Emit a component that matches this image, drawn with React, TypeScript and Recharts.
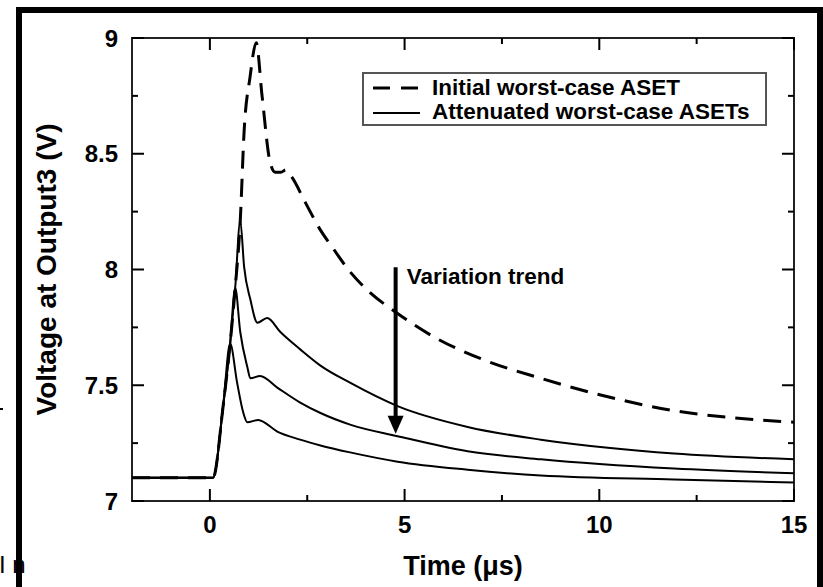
import { LineChart, Line, XAxis, YAxis, ReferenceArea, ReferenceLine, Legend } from "recharts";

const W = 823;
const H = 587;
const PLOT = { left: 132, right: 794, top: 38, bottom: 501 };
const FONT = "'Liberation Sans', Arial, Helvetica, sans-serif";

// time axis (µs) and voltage axis (V)
const xTicks = [0, 2.5, 5, 7.5, 10, 12.5, 15];
const yTicks = [7, 7.25, 7.5, 7.75, 8, 8.25, 8.5, 8.75, 9];

// initial worst-case ASET (dashed)
const initialTime = [-2, 0.08, 0.34, 0.52, 0.65, 0.78, 0.88, 1.03, 1.19, 1.34, 1.55, 1.68, 1.82, 1.95, 2.1, 2.45, 2.84, 3.17, 3.6, 4.05, 4.82, 5.74, 7.03, 8.5, 10.22, 11.92, 13.4, 15];
const initialVolt = [7.1, 7.1, 7.41, 7.68, 7.92, 8.21, 8.6, 8.83, 8.98, 8.75, 8.46, 8.42, 8.42, 8.43, 8.4, 8.29, 8.17, 8.09, 7.99, 7.91, 7.81, 7.71, 7.61, 7.53, 7.45, 7.39, 7.36, 7.34];

// attenuated worst-case ASETs (solid)
const attenATime = [-2, 0.08, 0.34, 0.52, 0.65, 0.78, 0.88, 1.04, 1.22, 1.47, 1.81, 2.32, 2.84, 3.61, 4.82, 6.62, 8.5, 10.22, 11.92, 15];
const attenAVolt = [7.1, 7.1, 7.41, 7.68, 7.92, 8.21, 8.01, 7.87, 7.77, 7.79, 7.73, 7.655, 7.585, 7.51, 7.41, 7.32, 7.265, 7.23, 7.205, 7.18];

const attenBTime = [-2, 0.08, 0.34, 0.52, 0.65, 0.78, 0.96, 1.04, 1.29, 1.73, 2.32, 2.84, 3.6, 4.82, 6.62, 8.5, 11.92, 15];
const attenBVolt = [7.1, 7.1, 7.41, 7.68, 7.92, 7.73, 7.58, 7.53, 7.54, 7.49, 7.425, 7.38, 7.33, 7.28, 7.215, 7.18, 7.14, 7.12];

const attenCTime = [-2, 0.08, 0.34, 0.52, 0.7, 0.86, 0.96, 1.24, 1.73, 2.32, 2.84, 3.6, 4.82, 6.62, 8.5, 11.92, 15];
const attenCVolt = [7.1, 7.1, 7.41, 7.68, 7.51, 7.38, 7.34, 7.35, 7.3, 7.265, 7.24, 7.21, 7.17, 7.135, 7.11, 7.093, 7.08];

// "Variation trend" arrow: time, start/end voltage
const trendTime = 4.77;
const trendVolt = [8.01, 7.29];

const zip = (t: number[], v: number[]) => t.map((x, i) => ({ t: x, v: v[i] }));

const solidSeries = [zip(attenATime, attenAVolt), zip(attenBTime, attenBVolt), zip(attenCTime, attenCVolt)];
const dashedSeries = zip(initialTime, initialVolt);

const XTick = ({ x, payload }: any) => {
  const v = payload.value;
  const major = v % 5 === 0;
  const len = major ? 12 : 6;
  return (
    <g>
      <line x1={x} x2={x} y1={PLOT.bottom} y2={PLOT.bottom - len} stroke="#000" strokeWidth={2} />
      <line x1={x} x2={x} y1={PLOT.top} y2={PLOT.top + len} stroke="#000" strokeWidth={2} />
      {major && (
        <text x={x} y={PLOT.bottom + 32} textAnchor="middle" fontFamily={FONT} fontWeight="bold" fontSize={24} fill="#000">
          {v}
        </text>
      )}
    </g>
  );
};

const YTick = ({ y, payload }: any) => {
  const v = payload.value;
  const major = Math.abs(v * 2 - Math.round(v * 2)) < 1e-6;
  const len = major ? 12 : 6;
  return (
    <g>
      <line x1={PLOT.left} x2={PLOT.left + len} y1={y} y2={y} stroke="#000" strokeWidth={2} />
      <line x1={PLOT.right} x2={PLOT.right - len} y1={y} y2={y} stroke="#000" strokeWidth={2} />
      {major && (
        <text x={PLOT.left - 14} y={y + 8.5} textAnchor="end" fontFamily={FONT} fontWeight="bold" fontSize={24} fill="#000">
          {String(v)}
        </text>
      )}
    </g>
  );
};

const TrendArrow = (props: any) => {
  const { x1, x2, y1, y2 } = props;
  const x = (x1 + x2) / 2;
  const top = Math.min(y1, y2);
  const bot = Math.max(y1, y2);
  return (
    <g>
      <line x1={x} x2={x} y1={top} y2={bot - 14} stroke="#000" strokeWidth={4} />
      <polygon points={`${x - 8},${bot - 18} ${x + 8},${bot - 18} ${x},${bot}`} fill="#000" />
      <text x={x + 11} y={top + 17} fontFamily={FONT} fontWeight="bold" fontSize={22.5} fill="#000">
        Variation trend
      </text>
    </g>
  );
};

const LegendBox = () => (
  <div
    style={{
      position: "relative",
      width: 405,
      height: 54,
      border: "2px solid #555",
      boxSizing: "border-box",
      background: "#fff",
      fontFamily: FONT,
      fontWeight: "bold",
      fontSize: 22.5,
      color: "#000",
    }}
  >
    <svg width={60} height={54} style={{ position: "absolute", left: 0, top: 0 }}>
      <line x1={9} x2={56} y1={14} y2={14} stroke="#000" strokeWidth={3} strokeDasharray="17 11" />
      <line x1={9} x2={56} y1={39} y2={39} stroke="#000" strokeWidth={2} />
    </svg>
    <div style={{ position: "absolute", left: 68, top: 1, lineHeight: "26px", whiteSpace: "nowrap" }}>
      Initial worst-case ASET
    </div>
    <div style={{ position: "absolute", left: 68, top: 25, lineHeight: "26px", whiteSpace: "nowrap" }}>
      Attenuated worst-case ASETs
    </div>
  </div>
);

export default function App() {
  return (
    <div style={{ position: "fixed", left: 0, top: 0, width: W, height: H, overflow: "hidden", background: "#fff" }}>
      <div style={{ position: "absolute", left: -1, top: 551, fontFamily: FONT, fontSize: 24, color: "#000" }}>I n</div>
      <div style={{ position: "absolute", left: 0, top: 408, width: 3, height: 2, background: "#000" }} />
      <div style={{ position: "absolute", left: 0, top: 0 }}>
        <LineChart width={W} height={H} margin={{ top: PLOT.top, right: W - PLOT.right, bottom: 20, left: 0 }}>
          <XAxis
            dataKey="t"
            type="number"
            domain={[-2, 15]}
            ticks={xTicks}
            interval={0}
            allowDataOverflow
            axisLine={false}
            tickLine={false}
            tickSize={0}
            tickMargin={0}
            height={H - PLOT.bottom - 20}
            tick={<XTick />}
            label={{
              content: () => (
                <text x={(PLOT.left + PLOT.right) / 2} y={575} textAnchor="middle" fontFamily={FONT} fontWeight="bold" fontSize={27} fill="#000">
                  Time (μs)
                </text>
              ),
            }}
          />
          <YAxis
            dataKey="v"
            type="number"
            domain={[7, 9]}
            ticks={yTicks}
            interval={0}
            allowDataOverflow
            axisLine={false}
            tickLine={false}
            tickSize={0}
            tickMargin={0}
            width={PLOT.left}
            tick={<YTick />}
            label={{
              content: () => (
                <text
                  x={0}
                  y={0}
                  transform={`translate(56, ${(PLOT.top + PLOT.bottom) / 2}) rotate(-90)`}
                  textAnchor="middle"
                  fontFamily={FONT}
                  fontWeight="bold"
                  fontSize={28}
                  fill="#000"
                >
                  Voltage at Output3 (V)
                </text>
              ),
            }}
          />
          <ReferenceArea x1={-2} x2={15} y1={7} y2={9} fill="none" stroke="#222" strokeWidth={2} />
          {solidSeries.map((d, i) => (
            <Line
              key={i}
              data={d}
              dataKey="v"
              type="monotone"
              stroke="#000"
              strokeWidth={2}
              dot={false}
              activeDot={false}
              isAnimationActive={false}
            />
          ))}
          <Line
            data={dashedSeries}
            dataKey="v"
            type="monotone"
            stroke="#000"
            strokeWidth={3}
            strokeDasharray="18 10"
            dot={false}
            activeDot={false}
            isAnimationActive={false}
          />
          <ReferenceLine
            segment={[
              { x: trendTime, y: trendVolt[0] },
              { x: trendTime, y: trendVolt[1] },
            ]}
            shape={TrendArrow}
          />
          <Legend
            layout="horizontal"
            align="center"
            verticalAlign="middle"
            wrapperStyle={{ left: 362, top: 72, width: 405, height: 54 }}
            content={() => <LegendBox />}
          />
        </LineChart>
      </div>
      <div
        style={{
          position: "absolute",
          left: 16,
          top: 7,
          width: W - 16,
          height: 640,
          border: "6px solid #000",
          boxSizing: "border-box",
          pointerEvents: "none",
        }}
      />
    </div>
  );
}
